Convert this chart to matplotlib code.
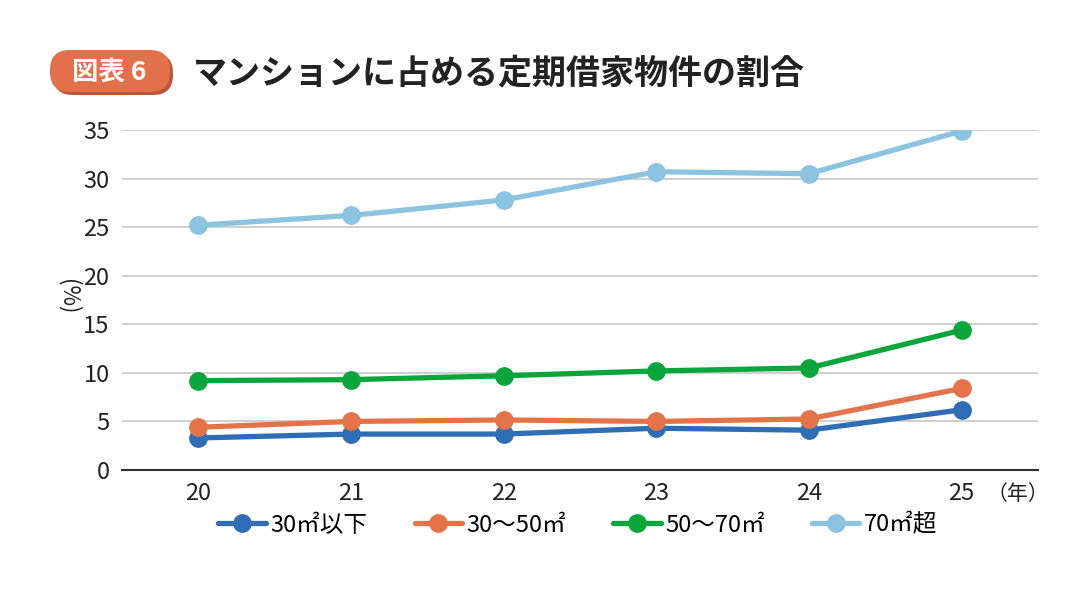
import numpy as np
import matplotlib.pyplot as plt
from matplotlib.patches import FancyBboxPatch

plt.rcParams['font.family'] = ['Noto Sans CJK JP', 'DejaVu Sans']

years = [20, 21, 22, 23, 24, 25]
under30 = [3.3, 3.7, 3.7, 4.3, 4.1, 6.2]
s30_50 = [4.4, 5.0, 5.15, 5.0, 5.25, 8.4]
s50_70 = [9.2, 9.3, 9.7, 10.2, 10.5, 14.4]
over70 = [25.2, 26.2, 27.8, 30.7, 30.5, 34.9]
labels = ['30㎡以下', '30～50㎡', '50～70㎡', '70㎡超']
colors = ['#2f6db5', '#e5734a', '#0aa63c', '#8cc3e0']
yticks = [0, 5, 10, 15, 20, 25, 30, 35]

W, H = 1089, 590
fig = plt.figure(figsize=(W/100, H/100), dpi=100)
ax = fig.add_axes([122/W, 1-470/H, (1038-122)/W, 340/H])

for vals, lab, c in zip([under30, s30_50, s50_70, over70], labels, colors):
    ax.plot(years, vals, color=c, lw=3.8, marker='o', ms=12.5, label=lab,
            solid_capstyle='round', zorder=3)

ax.set_xlim(19.5, 25.5)
ax.set_ylim(0, 35)
ax.set_yticks(yticks)
ax.set_xticks(years)
ax.yaxis.grid(True, color='#cccccc', lw=1.3)
ax.set_axisbelow(True)
for s in ['top', 'right', 'left']:
    ax.spines[s].set_visible(False)
ax.spines['bottom'].set_color('#333333')
ax.spines['bottom'].set_linewidth(1.5)
ax.tick_params(length=0, labelsize=17, colors='#222222')
ax.tick_params(axis='x', pad=9)
ax.tick_params(axis='y', pad=9)
ax.text(25.16, -2.45, '（年）', fontsize=15, color='#222222', ha='left', va='center')
fig.text(68/W, 1-297/H, '(%)', fontsize=16, color='#222222', rotation=270,
         ha='center', va='center')

ax.legend(loc='center', bbox_to_anchor=(578/W, 1-525/H), bbox_transform=fig.transFigure,
          ncol=4, frameon=False, fontsize=17, handlelength=2.0, columnspacing=2.0,
          handletextpad=0.2)

# title badge
bax = fig.add_axes([50/W, 1-95/H, 123/W, 45/H])
bax.set_xlim(0, 123)
bax.set_ylim(0, 45)
bax.axis('off')
bax.add_patch(FancyBboxPatch((3, 0), 120, 42, boxstyle='round,pad=0,rounding_size=20',
                             facecolor='#b8553a', edgecolor='none'))
bax.add_patch(FancyBboxPatch((0, 3), 120, 42, boxstyle='round,pad=0,rounding_size=20',
                             facecolor='#e2704a', edgecolor='none'))
fig.text(109/W, 1-72/H, '図表 6', fontsize=19, color='white', fontweight='bold',
         ha='center', va='center')
fig.text(193/W, 1-73/H, 'マンションに占める定期借家物件の割合', fontsize=24.5,
         color='#222222', fontweight='bold', ha='left', va='center')

fig.savefig('out.png', dpi=100)
